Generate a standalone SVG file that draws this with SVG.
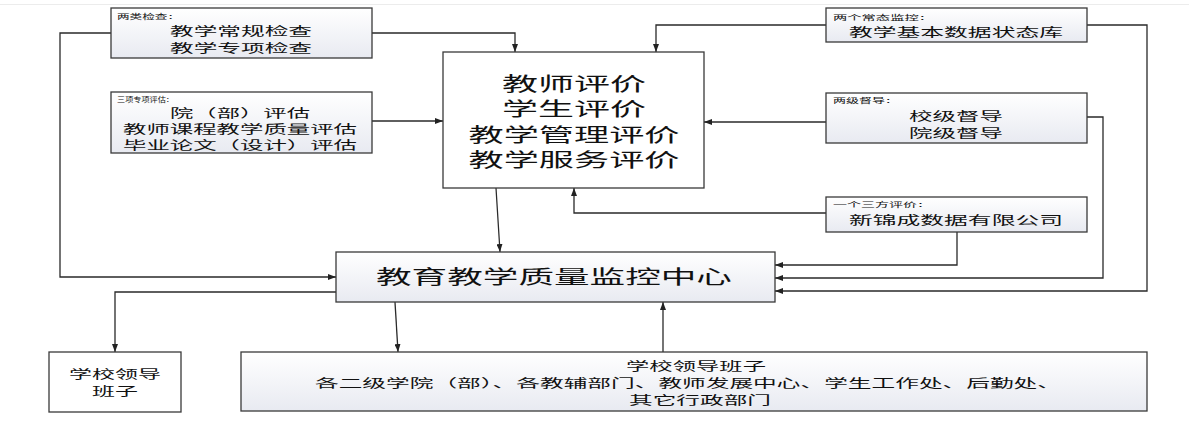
<svg xmlns="http://www.w3.org/2000/svg" width="1189" height="423" viewBox="0 0 1189 423">
<defs>
<linearGradient id="g" x1="0" y1="0" x2="0" y2="1"><stop offset="0" stop-color="#ffffff"/><stop offset="1" stop-color="#e8eaf1"/></linearGradient>
<marker id="a" markerUnits="userSpaceOnUse" markerWidth="8" markerHeight="6" refX="8" refY="3" orient="auto"><path d="M0,0 L8,3 L0,6 z" fill="#222"/></marker>
</defs>
<style>
.box{stroke:#3a3a3a;stroke-width:1.3;fill:url(#g)}
.plain{fill:#ffffff}
.t{font-family:"Noto Sans CJK SC","Noto Sans",sans-serif;fill:#111;text-anchor:middle}
.lbl{font-size:7px;text-anchor:start}
.m{font-size:12px}
.l{font-size:19px}
.c{fill:none;stroke:#2a2a2a;stroke-width:1.3;marker-end:url(#a)}
</style>
<rect width="1189" height="423" fill="#ffffff"/>
<line x1="0" y1="4.5" x2="1189" y2="4.5" stroke="#ececec" stroke-width="1"/>

<g id="connectors">
<path class="c" d="M111,33 H60 V277 H336"/>
<path class="c" d="M372,33 H515 V52"/>
<path class="c" d="M372,121 H443"/>
<path class="c" d="M826,25 H656 V52"/>
<path class="c" d="M1087,25 H1147 V291 H775"/>
<path class="c" d="M826,122 H704"/>
<path class="c" d="M1087,117 H1103 V278 H775"/>
<path class="c" d="M826,213 H574 V188"/>
<path class="c" d="M957,232 V265 H775"/>
<path class="c" d="M496,188 L500,252"/>
<path class="c" d="M336,292 H115 V352"/>
<path class="c" d="M395,302 L398,352"/>
<path class="c" d="M663,352 V302"/>
</g>

<g id="n-two-checks">
<rect class="box" x="111" y="8" width="261" height="50"/>
<text class="t lbl" x="117" y="19" textLength="63" lengthAdjust="spacingAndGlyphs">两类检查：</text>
<text class="t m" x="241" y="36" textLength="142" lengthAdjust="spacingAndGlyphs">教学常规检查</text>
<text class="t m" x="241" y="53" textLength="142" lengthAdjust="spacingAndGlyphs">教学专项检查</text>
</g>

<g id="n-three-evals">
<rect class="box" x="111" y="92" width="261" height="61"/>
<text class="t lbl" x="117" y="102" textLength="57" lengthAdjust="spacingAndGlyphs">三项专项评估：</text>
<text class="t m" x="240" y="118" textLength="140" lengthAdjust="spacingAndGlyphs">院（部）评估</text>
<text class="t m" x="240" y="134" textLength="234" lengthAdjust="spacingAndGlyphs">教师课程教学质量评估</text>
<text class="t m" x="240" y="150" textLength="234" lengthAdjust="spacingAndGlyphs">毕业论文（设计）评估</text>
</g>

<g id="n-evaluations">
<rect class="box plain" x="443" y="52" width="261" height="136"/>
<text class="t l" x="574" y="91" textLength="144" lengthAdjust="spacingAndGlyphs">教师评价</text>
<text class="t l" x="574" y="116" textLength="144" lengthAdjust="spacingAndGlyphs">学生评价</text>
<text class="t l" x="574" y="142" textLength="211" lengthAdjust="spacingAndGlyphs">教学管理评价</text>
<text class="t l" x="574" y="167" textLength="211" lengthAdjust="spacingAndGlyphs">教学服务评价</text>
</g>

<g id="n-monitoring">
<rect class="box" x="826" y="8" width="261" height="34"/>
<text class="t lbl" x="833" y="20" textLength="100" lengthAdjust="spacingAndGlyphs">两个常态监控：</text>
<text class="t m" x="956" y="37" textLength="214" lengthAdjust="spacingAndGlyphs">教学基本数据状态库</text>
</g>

<g id="n-supervision">
<rect class="box" x="826" y="93" width="261" height="50"/>
<text class="t lbl" x="833" y="103" textLength="65" lengthAdjust="spacingAndGlyphs">两级督导：</text>
<text class="t m" x="956" y="121" textLength="94" lengthAdjust="spacingAndGlyphs">校级督导</text>
<text class="t m" x="956" y="138" textLength="94" lengthAdjust="spacingAndGlyphs">院级督导</text>
</g>

<g id="n-third-party">
<rect class="box" x="826" y="197" width="261" height="35"/>
<text class="t lbl" x="833" y="207" textLength="98" lengthAdjust="spacingAndGlyphs">一个三方评价：</text>
<text class="t m" x="956" y="225" textLength="214" lengthAdjust="spacingAndGlyphs">新锦成数据有限公司</text>
</g>

<g id="n-center">
<rect class="box" x="336" y="252" width="439" height="50"/>
<text class="t l" x="554" y="284" textLength="356" lengthAdjust="spacingAndGlyphs">教育教学质量监控中心</text>
</g>

<g id="n-leaders">
<rect class="box plain" x="49" y="352" width="132" height="60"/>
<text class="t m" x="115" y="379" textLength="92" lengthAdjust="spacingAndGlyphs">学校领导</text>
<text class="t m" x="115" y="396" textLength="46" lengthAdjust="spacingAndGlyphs">班子</text>
</g>

<g id="n-departments">
<rect class="box" x="241" y="352" width="906" height="59"/>
<text class="t m" x="696" y="370.5" textLength="140" lengthAdjust="spacingAndGlyphs">学校领导班子</text>
<text class="t m" x="688" y="387.5" textLength="746" lengthAdjust="spacingAndGlyphs">各二级学院（部）、各教辅部门、教师发展中心、学生工作处、后勤处、</text>
<text class="t m" x="700" y="404.5" textLength="142" lengthAdjust="spacingAndGlyphs">其它行政部门</text>
</g>
</svg>
